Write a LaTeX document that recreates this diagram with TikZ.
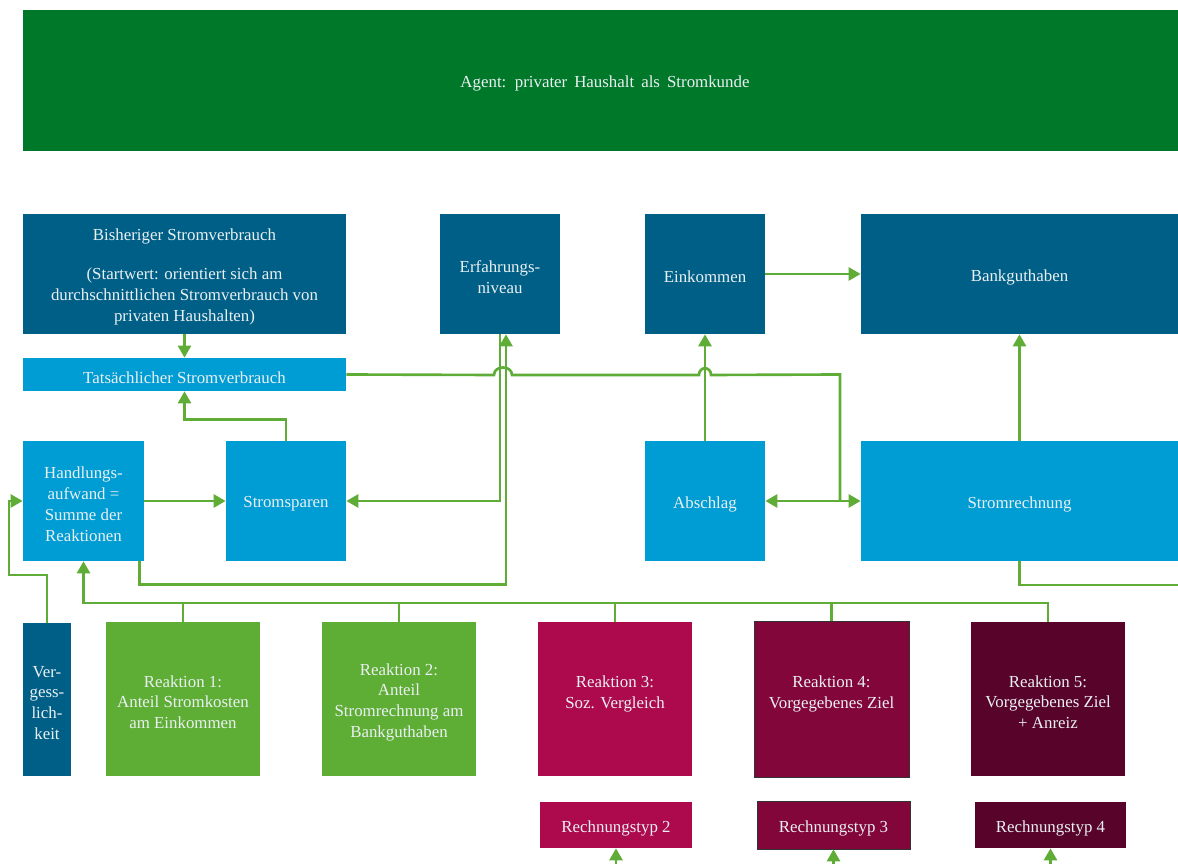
\documentclass[tikz,border=0pt]{standalone}
\usepackage{fontspec}
\setmainfont{Liberation Serif}
\usetikzlibrary{calc,arrows.meta}
\definecolor{agentgreen}{HTML}{00782A}
\definecolor{dblue}{HTML}{005F87}
\definecolor{lblue}{HTML}{009CD4}
\definecolor{rgreen}{HTML}{5EAD35}
\definecolor{lgreen}{HTML}{5FAD37}
\definecolor{rmag}{HTML}{AD0A4E}
\definecolor{rwine}{HTML}{82063A}
\definecolor{rdark}{HTML}{58042A}
\definecolor{textc}{HTML}{EAF0F2}
\newcommand\dfont{\fontsize{9.6}{11.8}\selectfont}
\begin{document}
\begin{tikzpicture}[x=0.02cm,y=-0.02cm,
  box/.style={rectangle,inner sep=0pt,draw=none},
  lab/.style={text=textc,font=\dfont,align=center,inner sep=0pt,yshift=-1.8pt},
  sz/.style 2 args={minimum width=#1*0.02cm,minimum height=#2*0.02cm},
  conn/.style={draw=lgreen,line width=1.5pt},
  arr/.style={-{Triangle[length=0.24cm,width=0.26cm]}},
  darr/.style={{Triangle[length=0.24cm,width=0.26cm]}-{Triangle[length=0.24cm,width=0.26cm]}}]
\useasboundingbox (0,0) rectangle (1178,864);
\fill[white] (0,0) rectangle (1178,864);

% nodes
\node[box,fill=agentgreen,sz={1155}{141}] (agent) at (600.5,80.5) {};
\node[lab] (agenttext) at (605,80) {Agent:\, privater\, Haushalt\, als\, Stromkunde};

\node[box,fill=dblue,sz={323}{120},label={[lab]center:{Bisheriger Stromverbrauch\\[10.4pt](Startwert: orientiert sich am\\durchschnittlichen Stromverbrauch von\\privaten Haushalten)}}] (bis) at (184.5,274) {};
\node[box,fill=dblue,sz={120}{120},label={[lab]center:{Erfahrungs-\\niveau}}] (erf) at (500,274) {};
\node[box,fill=dblue,sz={120}{120},label={[lab]center:{Einkommen}}] (ein) at (705,274) {};
\node[box,fill=dblue,sz={317}{120},label={[lab]center:{Bankguthaben}}] (bank) at (1019.5,274) {};

\node[box,fill=lblue,sz={323}{33},label={[lab]center:{Tats\"achlicher Stromverbrauch}}] (tat) at (184.5,374.5) {};

\node[box,fill=lblue,sz={121}{120},label={[lab]center:{Handlungs-\\aufwand =\\Summe der\\Reaktionen}}] (handl) at (83.5,501) {};
\node[box,fill=lblue,sz={120}{120},label={[lab]center:{Stromsparen}}] (spar) at (286,501) {};
\node[box,fill=lblue,sz={120}{120},label={[lab]center:{Abschlag}}] (absch) at (705,501) {};
\node[box,fill=lblue,sz={317}{120},label={[lab]center:{Stromrechnung}}] (rech) at (1019.5,501) {};

\node[box,fill=dblue,sz={48}{153},label={[lab]center:{Ver-\\gess-\\lich-\\keit}}] (verg) at (47,699.5) {};
\node[box,fill=rgreen,sz={154}{154},label={[lab]center:{Reaktion 1:\\Anteil Stromkosten\\am Einkommen}}] (r1) at (183,699) {};
\node[box,fill=rgreen,sz={154}{154},label={[lab]center:{Reaktion 2:\\Anteil\\Stromrechnung am\\Bankguthaben}}] (r2) at (399,699) {};
\node[box,fill=rmag,sz={154}{154},label={[lab]center:{Reaktion 3:\\Soz. Vergleich\\\mbox{}}}] (r3) at (615,699) {};
\node[box,fill=rwine,draw=black!80,line width=0.4pt,sz={155}{156},label={[lab]center:{Reaktion 4:\\Vorgegebenes Ziel\\\mbox{}}}] (r4) at (831.5,699) {};
\node[box,fill=rdark,sz={154}{154},label={[lab]center:{Reaktion 5:\\Vorgegebenes Ziel\\+ Anreiz}}] (r5) at (1048,699) {};

\node[box,fill=rmag,sz={152}{46},label={[lab]center:{Rechnungstyp 2}}] (rt2) at (616,825) {};
\node[box,fill=rwine,draw=black!80,line width=0.4pt,sz={153}{48},label={[lab]center:{Rechnungstyp 3}}] (rt3) at (833.5,825) {};
\node[box,fill=rdark,sz={151}{46},label={[lab]center:{Rechnungstyp 4}}] (rt4) at (1050.5,825) {};

% helper coordinates
\coordinate (j) at (840,501);
\coordinate (bus) at (0,603);
\coordinate (vl) at (9,575);
\coordinate (exitR) at (1178,585);
\coordinate (btm) at (0,900);

% connectors
\draw[conn,arr] (bis.south) -- (tat.north);
\draw[conn,arr] (spar.north) -- ++(0,-21) -| (tat.south);
\draw[conn,arr] (handl.east) -- (spar.west);
\draw[conn] (tat.east) -- (494,375) .. controls (494,365) and (512,365) .. (512,375)
  -- (699,375) .. controls (699,366) and (711,366) .. (711,375) -- (j |- tat.east) -- (j);
\draw[conn,darr] (absch.east) -- (rech.west);
\draw[conn,arr] (erf.south) -- (erf.south |- spar.east) -- (spar.east);
\draw[conn,arr] ($(handl.south east)+(-5,0)$) -- ++(0,23) -| ($(erf.south)+(6,0)$);
\draw[conn,arr] (absch.north) -- (ein.south);
\draw[conn,arr] (ein.east) -- (bank.west);
\draw[conn,arr] (rech.north) -- (bank.south);
\draw[conn] (rech.south) |- (exitR);
\draw[conn,arr] (r5.north) -- (r5.north |- bus) -| (handl.south);
\draw[conn] (r1.north) -- (r1.north |- bus);
\draw[conn] (r2.north) -- (r2.north |- bus);
\draw[conn] (r3.north) -- (r3.north |- bus);
\draw[conn] (r4.north) -- (r4.north |- bus);
\draw[conn,arr] (verg.north) |- (vl) |- (handl.west);
\draw[conn,arr] (rt2.south |- btm) -- (rt2.south);
\draw[conn,arr] (rt3.south |- btm) -- (rt3.south);
\draw[conn,arr] (rt4.south |- btm) -- (rt4.south);
\end{tikzpicture}
\end{document}
